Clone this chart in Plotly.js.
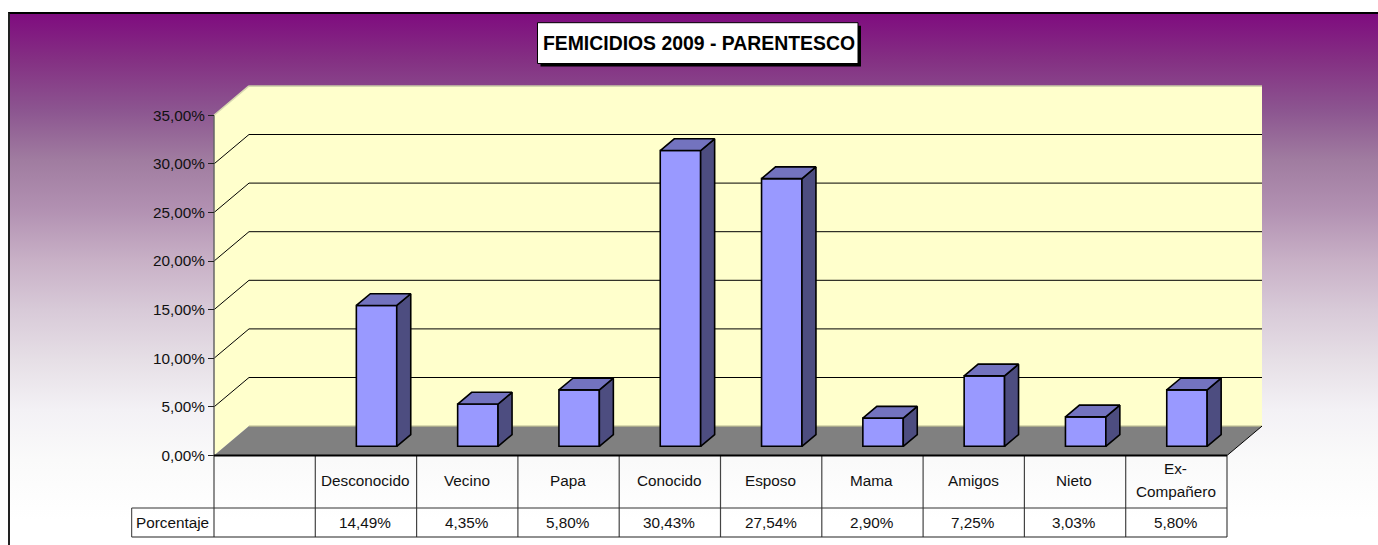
<!DOCTYPE html>
<html><head><meta charset="utf-8">
<script src="https://cdn.plot.ly/plotly-3.0.1.min.js"></script>
<style>
html,body{margin:0;padding:0;background:#fff;width:1378px;height:545px;overflow:hidden}
#bg{position:absolute;left:8px;top:12px;width:1370px;height:533px;box-sizing:border-box;border-top:2px solid #000;border-left:2px solid #222;
background:linear-gradient(to bottom,#7f0c7f 0px,#843083 46px,#8c5590 96px,#a07ca0 146px,#b291b2 196px,#c8b0c6 246px,#d8cad8 296px,#e6dfe6 346px,#f3f1f5 396px,#fafafa 446px,#ffffff 506px)}
#chart{position:absolute;left:0;top:0;width:1378px;height:545px}
</style></head><body>
<div id="bg"></div><div id="chart"></div>
<script>
const categories = ["Desconocido","Vecino","Papa","Conocido","Esposo","Mama","Amigos","Nieto","Ex-<br>Compañero"];
const values = [14.49,4.35,5.80,30.43,27.54,2.90,7.25,3.03,5.80];
const yTicks = [0,5,10,15,20,25,30,35];
const titleText = "FEMICIDIOS 2009 - PARENTESCO";
const rowName = "Porcentaje";

// pixel scale of the page-filling plot
const W=1378,H=545,X0=214,COL=101.3,Y0=455.5,UNIT=9.72;
const px2x=p=>(p-X0)/COL;      // x=0 is left edge of the blank first column
const px2y=p=>(Y0-p)/UNIT;
const DX=35/COL,DY=29.4/UNIT;  // depth of the chart floor
const nCols=categories.length+1;
const fmt=v=>v.toFixed(2).replace('.',',')+'%';
const yMax=yTicks[yTicks.length-1];

// bars
const barW=40.4/COL, barOff=10.6/COL, barBase=9.2/UNIT, bdx=14/COL, bdy=11.7/UNIT;
const barX=values.map((v,i)=>i+1.5+barOff);
const sx=[],sy=[],tx=[],ty=[];
values.forEach((v,i)=>{
  const l=barX[i]-barW/2,r=barX[i]+barW/2,b=barBase,t=barBase+v;
  sx.push(r,r+bdx,r+bdx,r,r,null); sy.push(b,b+bdy,t+bdy,t,b,null);
  tx.push(l,l+bdx,r+bdx,r,l,null); ty.push(t,t+bdy,t+bdy,t,t,null);
});
const LINE={color:'#000',width:1.6};
const traces=[
 {type:'bar',x:barX,y:values,base:values.map(()=>barBase),width:barW,
  marker:{color:'#9999ff',line:{color:'#000',width:1.6}},hoverinfo:'skip',showlegend:false},
 {type:'scatter',mode:'lines',x:sx,y:sy,fill:'toself',fillcolor:'#4d4d80',line:LINE,hoverinfo:'skip',showlegend:false},
 {type:'scatter',mode:'lines',x:tx,y:ty,fill:'toself',fillcolor:'#7373bf',line:LINE,hoverinfo:'skip',showlegend:false}
];

const poly=(pts,fill,line,layer)=>({type:'path',xref:'x',yref:'y',layer:layer||'below',
  path:'M'+pts.map(p=>p[0]+','+p[1]).join('L')+'Z',fillcolor:fill,line:line||{width:0}});
const seg=(x0,y0,x1,y1,color,width,layer)=>({type:'line',xref:'x',yref:'y',layer:layer||'below',x0,y0,x1,y1,line:{color,width}});

const xR=nCols, shapes=[];
// walls and floor
shapes.push(poly([[0,0],[DX,DY],[DX+xR,DY],[DX+xR,yMax+DY],[DX,yMax+DY],[0,yMax]],'#ffffcc'));
shapes.push(seg(0,yMax,DX,yMax+DY,'#d8d8b0',1.5));
shapes.push(seg(DX,yMax+DY,DX+xR,yMax+DY,'#c8c8a4',1.5));
shapes.push(poly([[0,0],[DX,DY],[DX+xR,DY],[xR,0]],'#808080'));
shapes.push(seg(DX,DY,DX+xR,DY,'#b8b890',1.2));
yTicks.filter(t=>t>0&&t<yMax).forEach(t=>{
  shapes.push(seg(0,t,DX,t+DY,'#000',1));
  shapes.push(seg(DX,t+DY,DX+xR,t+DY,'#000',1));
});
shapes.push(seg(xR,0,DX+xR,DY,'#000',1));
// axis line
shapes.push(seg(0,0,0,yMax,'#666',1.5));
// data table
const rowA=px2y(508),rowB=px2y(537),porcL=px2x(131.7);
for(let i=0;i<=nCols;i++) shapes.push(seg(i,0,i,rowB,'#444',1.2,'above'));
shapes.push(seg(0,0,xR,0,'#000',2,'above'));
shapes.push(seg(porcL,rowA,xR,rowA,'#333',1,'above'));
shapes.push(seg(porcL,rowB,xR,rowB,'#222',1.2,'above'));
shapes.push(seg(porcL,rowA,porcL,rowB,'#333',1,'above'));
// title box
const tb=[537.5,22.7,858,63.5];
shapes.push(poly([[px2x(tb[0]+3),px2y(tb[1]+3)],[px2x(tb[2]+3),px2y(tb[1]+3)],[px2x(tb[2]+3),px2y(tb[3]+3)],[px2x(tb[0]+3),px2y(tb[3]+3)]],'#000',{width:0},'above'));
shapes.push(poly([[px2x(tb[0]),px2y(tb[1])],[px2x(tb[2]),px2y(tb[1])],[px2x(tb[2]),px2y(tb[3])],[px2x(tb[0]),px2y(tb[3])]],'#fff',{color:'#000',width:1},'above'));

const FONT={family:'"Liberation Sans",Arial,sans-serif',size:15.3,color:'#111'};
const ann=(x,y,text)=>({xref:'x',yref:'y',x,y,text,showarrow:false,xanchor:'center',yanchor:'middle',font:FONT,captureevents:false});
const annotations=[];
const textShift=-0.6/COL;
categories.forEach((c,i)=>{
  const lines=c.split('<br>');
  lines.forEach((l,k)=>annotations.push(ann(i+1.5+textShift,px2y(480+(k-(lines.length-1)/2)*22.5),l)));
  annotations.push(ann(i+1.5+textShift,px2y(522.5),fmt(values[i])));
});
annotations.push(ann((porcL+0)/2,px2y(522.5),rowName));

const layout={
  width:W,height:H,margin:{l:0,r:0,t:0,b:0,pad:0},autosize:false,
  paper_bgcolor:'rgba(0,0,0,0)',plot_bgcolor:'rgba(0,0,0,0)',
  showlegend:false,hovermode:false,barmode:'overlay',
  title:{text:'<b>'+titleText+'</b>',xref:'paper',yref:'paper',x:699/W,y:1-43/H,xanchor:'center',yanchor:'middle',
    font:{family:'"Liberation Sans",Arial,sans-serif',size:19.4,color:'#000'}},
  xaxis:{type:'linear',visible:false,range:[px2x(0),px2x(W)],fixedrange:true},
  yaxis:{type:'linear',range:[px2y(H),px2y(0)],anchor:'free',position:X0/W,tickmode:'array',
    tickvals:yTicks,ticktext:yTicks.map(fmt),ticks:'outside',ticklen:6,tickwidth:1,tickcolor:'#222',
    showgrid:false,zeroline:false,showline:false,tickfont:FONT,fixedrange:true},
  shapes,annotations
};
Plotly.newPlot('chart',traces,layout,{displayModeBar:false,staticPlot:true});
</script>
</body></html>
